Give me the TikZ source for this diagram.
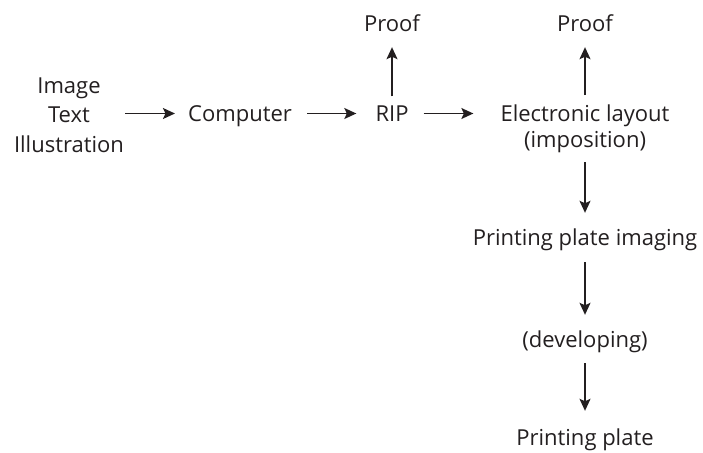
\documentclass[tikz,border=0pt]{standalone}
\usepackage{fontspec}
\setmainfont{Open Sans}
\usetikzlibrary{arrows.meta}
\definecolor{ink}{HTML}{231F20}
\begin{document}
\begin{tikzpicture}[x=1pt,y=-1pt,
  lbl/.style={inner sep=0pt, text=ink, font=\fontsize{22}{27}\selectfont},
  one/.style={lbl, text height=16pt, text depth=0pt, anchor=base},
  multi/.style={lbl, align=center, anchor=base},
  arr/.style={draw=ink, line width=1.4pt, -{Stealth[length=12pt,width=11pt,inset=2.5pt]}}]
\useasboundingbox[fill=white] (0,0) rectangle (703,452);
% nodes (multi-line nodes: base = baseline of last line)
\node[multi, font=\fontsize{22}{29.5}\selectfont] (src) at (69,152) {Image\\Text\\Illustration};
\node[one] (comp) at (240,121.5) {Computer};
\node[one] (rip) at (392,121.5) {RIP};
\node[one] (proofa) at (392,32) {Proof};
\node[multi, font=\fontsize{22}{26}\selectfont] (elec) at (585,147.5) {Electronic layout\\(imposition)};
\node[one] (proofb) at (585,32) {Proof};
\node[one] (ppi) at (585,245) {Printing plate imaging};
\node[one] (dev) at (585,347) {(developing)};
\node[one] (plate) at (585,445) {Printing plate};
% connectors
\draw[arr, shorten <=1pt, shorten >=13pt] (src.east |- comp) -- (comp.west);
\draw[arr, shorten <=15pt, shorten >=19pt] (comp) -- (rip);
\draw[arr, shorten <=15pt] (rip.east) -- ([xshift=-27pt]rip.east -| elec.west);
\draw[arr, shorten <=9pt, shorten >=15pt] (rip.north) -- (proofa.south);
\draw[arr, shorten >=15pt] ([yshift=52.5pt]elec.base) -- (proofb.south);
\draw[arr, shorten >=16pt] ([yshift=-14.5pt]elec.base) -- (ppi.north);
\draw[arr, shorten <=17pt, shorten >=16pt] (ppi.south) -- (dev.north);
\draw[arr, shorten <=16pt, shorten >=18pt] (dev.south) -- (plate.north);
\end{tikzpicture}
\end{document}
